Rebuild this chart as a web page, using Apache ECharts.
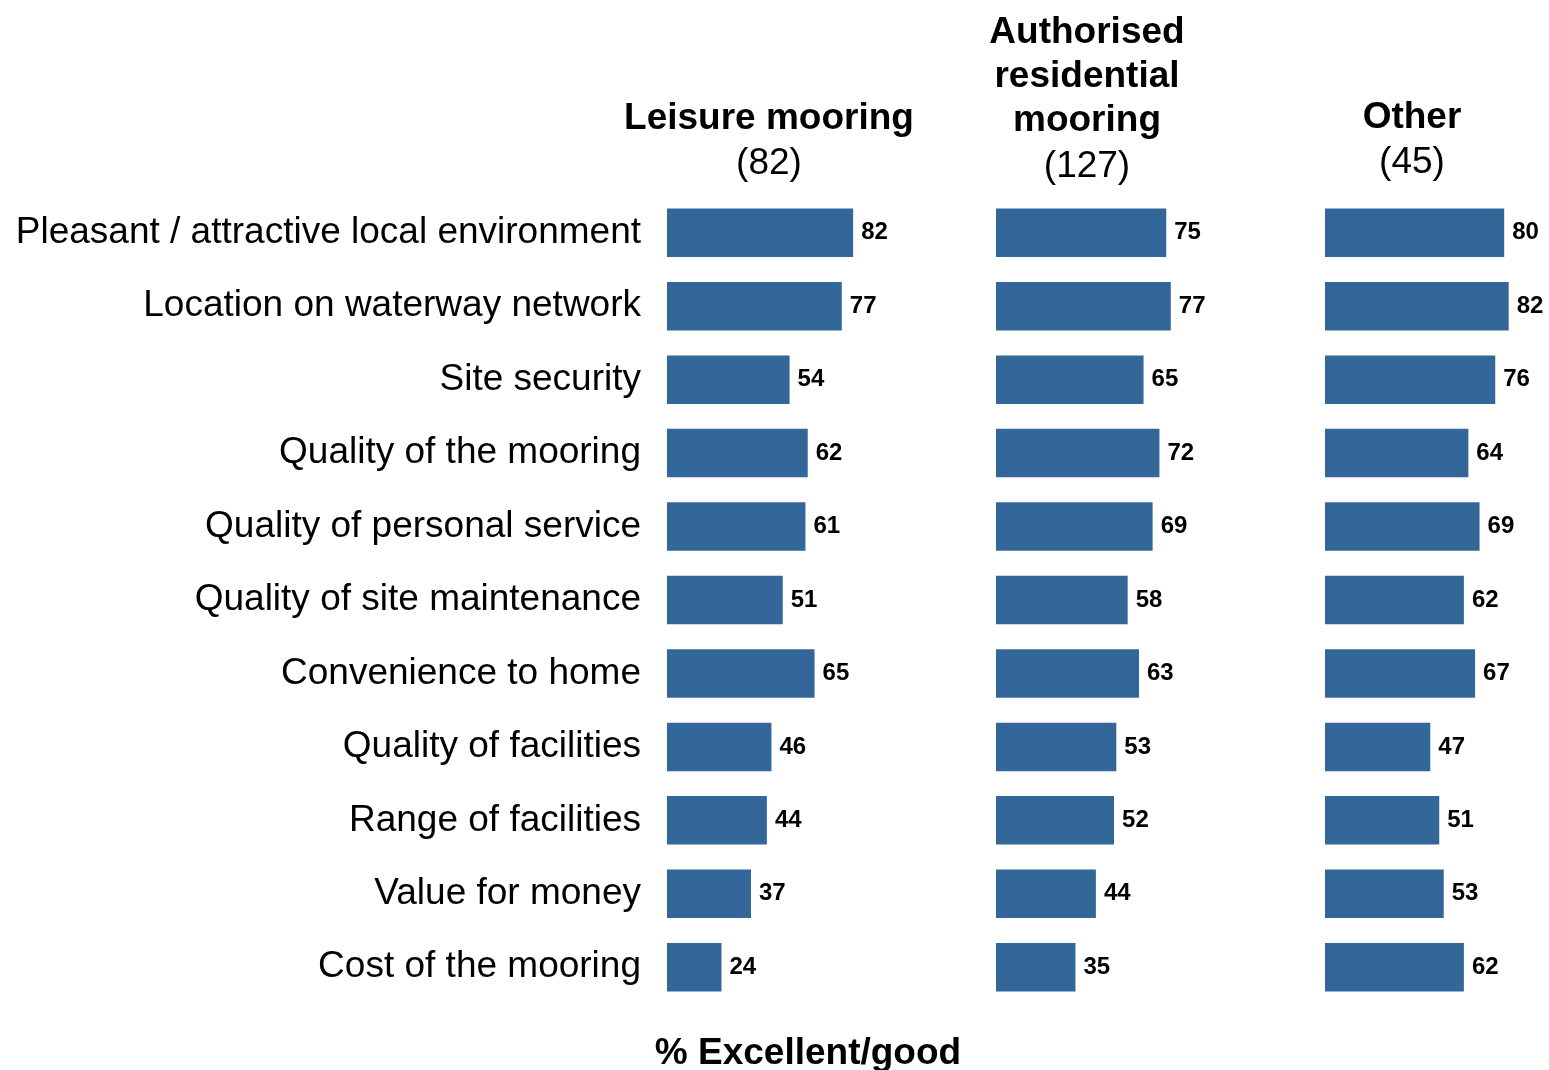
<!DOCTYPE html>
<html>
<head>
<meta charset="utf-8">
<script src="https://cdn.jsdelivr.net/npm/echarts@6/dist/echarts.min.js"></script>
<style>
  html, body { margin: 0; padding: 0; background: #fff; }
  #chart { width: 1549px; height: 1070px; }
</style>
</head>
<body>
<div id="chart"></div>
<script>
var categories = [
    'Pleasant / attractive local environment',
    'Location on waterway network',
    'Site security',
    'Quality of the mooring',
    'Quality of personal service',
    'Quality of site maintenance',
    'Convenience to home',
    'Quality of facilities',
    'Range of facilities',
    'Value for money',
    'Cost of the mooring'
];
var leisure = [82, 77, 54, 62, 61, 51, 65, 46, 44, 37, 24];
var residential = [75, 77, 65, 72, 69, 58, 63, 53, 52, 44, 35];
var other = [80, 82, 76, 64, 69, 62, 67, 47, 51, 53, 62];
var groupNames = ['Leisure mooring', 'Authorised\nresidential\nmooring', 'Other'];
var groupBases = ['(82)', '(127)', '(45)'];

var font = 'Liberation Sans, Arial, sans-serif';
var barColor = '#336699';
var lefts = [667, 996, 1325];
var centers = [769, 1087, 1412];
var allData = [leisure, residential, other];

var grids = [], xAxes = [], yAxes = [], series = [], titles = [];
for (var i = 0; i < 3; i++) {
    grids.push({ left: lefts[i], width: 227, top: 196, height: 808 });
    xAxes.push({ type: 'value', gridIndex: i, min: 0, max: 100, show: false });
    yAxes.push({
        type: 'category', gridIndex: i, data: categories, inverse: true,
        axisLine: { show: false }, axisTick: { show: false },
        axisLabel: {
            show: i === 0, margin: 26, fontSize: 37,
            fontFamily: font, color: '#000'
        }
    });
    series.push({
        type: 'bar', xAxisIndex: i, yAxisIndex: i, data: allData[i],
        barCategoryGap: '34%',
        itemStyle: { color: barColor },
        label: {
            show: true, position: 'right', distance: 8,
            fontSize: 24, fontWeight: 'bold', color: '#000', fontFamily: font
        }
    });
}

var titleTops = [97, 11, 96];
var gaps = [1, 2, 1];
for (var j = 0; j < 3; j++) {
    titles.push({
        text: groupNames[j],
        subtext: groupBases[j],
        left: centers[j], top: titleTops[j], textAlign: 'center',
        padding: 0, itemGap: gaps[j],
        textStyle: { fontSize: 37, fontWeight: 'bold', color: '#000', fontFamily: font, lineHeight: 44 },
        subtextStyle: { fontSize: 37, color: '#000', fontFamily: font, lineHeight: 44 }
    });
}
titles.push({
    text: '% Excellent/good', left: 808, top: 1034, textAlign: 'center', padding: 0,
    textStyle: { fontSize: 37, fontWeight: 'bold', color: '#000', fontFamily: font, lineHeight: 40 }
});

var chart = echarts.init(document.getElementById('chart'));
chart.setOption({
    animation: false,
    title: titles,
    grid: grids,
    xAxis: xAxes,
    yAxis: yAxes,
    series: series
});
</script>
</body>
</html>
